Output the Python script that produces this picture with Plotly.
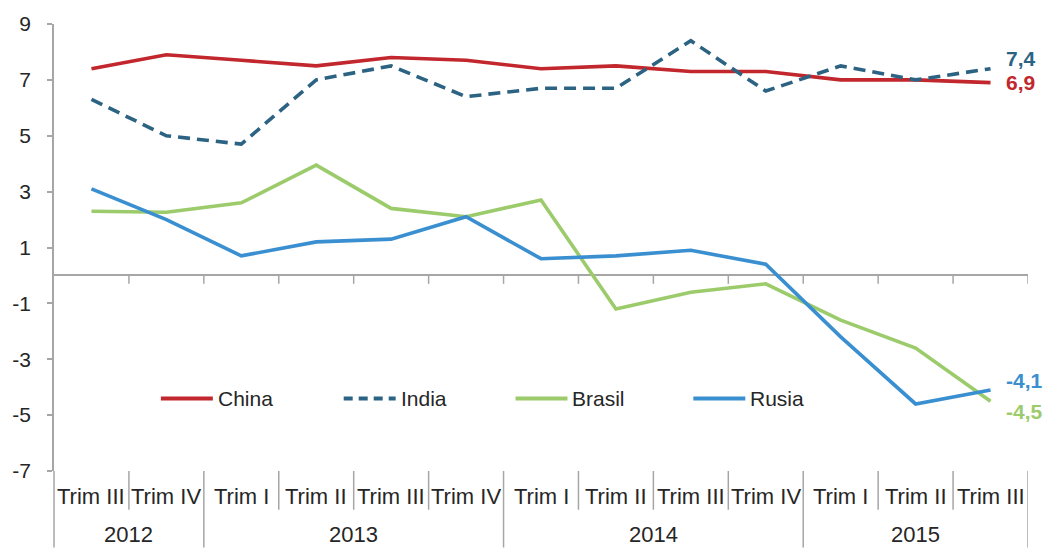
import plotly.graph_objects as go

# Quarterly GDP growth (% y/y), BRIC economies
years = ["2012", "2013", "2014", "2015"]
quarters_per_year = [2, 4, 4, 3]
trims = ["Trim III", "Trim IV",
         "Trim I", "Trim II", "Trim III", "Trim IV",
         "Trim I", "Trim II", "Trim III", "Trim IV",
         "Trim I", "Trim II", "Trim III"]

china = [7.4, 7.9, 7.7, 7.5, 7.8, 7.7, 7.4, 7.5, 7.3, 7.3, 7.0, 7.0, 6.9]
india = [6.3, 5.0, 4.7, 7.0, 7.5, 6.4, 6.7, 6.7, 8.4, 6.6, 7.5, 7.0, 7.4]
brasil = [2.3, 2.26, 2.6, 3.95, 2.4, 2.1, 2.7, -1.2, -0.6, -0.3, -1.6, -2.6, -4.5]
rusia = [3.1, 2.0, 0.7, 1.2, 1.3, 2.1, 0.6, 0.7, 0.9, 0.4, -2.2, -4.6, -4.1]

y_ticks = [-7, -5, -3, -1, 1, 3, 5, 7, 9]

series_names = ["China", "India", "Brasil", "Rusia"]
series_values = [china, india, brasil, rusia]
series_colors = ["#C1272D", "#2C6383", "#9CCB6C", "#3A8FD0"]
series_dash = ["solid", "12px,7px", "solid", "solid"]

# one category per quarter, labelled "year trim"
year_of_point = [y for y, n in zip(years, quarters_per_year) for _ in range(n)]
categories = [f"{y} {t}" for y, t in zip(year_of_point, trims)]

FONT = "Liberation Sans, Arial, sans-serif"
TXT = "#262626"
GRID = "#A6A6A6"

W, H = 1047, 548
ML, MR, MT, MB = 53, 19, 21, 77
PW, PH = W - ML - MR, H - MT - MB


def px_x(p):
    return (p - ML) / PW


def px_y(p):
    return (H - MB - p) / PH


fig = go.Figure()

for name, vals, col, dash in zip(series_names, series_values, series_colors, series_dash):
    fig.add_trace(go.Scatter(
        x=categories, y=vals, mode="lines", name=name,
        line=dict(color=col, width=3.6, dash=dash),
        showlegend=False, hoverinfo="skip",
    ))

shapes = []
annotations = []

# small ticks hanging from the zero line at quarter boundaries
n = len(categories)
for k in range(1, n + 1):
    shapes.append(dict(type="line", xref="x", yref="y",
                       x0=k - 0.5, x1=k - 0.5, y0=0, y1=-0.3,
                       line=dict(color=GRID, width=1.5)))

# separators in the category label area
year_edges = []
acc = 0
for cnt in quarters_per_year:
    acc += cnt
    year_edges.append(acc - 0.5)
for k in range(1, n):
    b = k - 0.5
    if b in year_edges:
        continue
    shapes.append(dict(type="line", xref="x", yref="paper",
                       x0=b, x1=b, y0=0, y1=-(39 / PH),
                       line=dict(color=GRID, width=1.5)))
for b in year_edges:
    shapes.append(dict(type="line", xref="x", yref="paper",
                       x0=b, x1=b, y0=0, y1=-(MB / PH),
                       line=dict(color=GRID, width=1.5)))
# value axis continues down through the label area
shapes.append(dict(type="line", xref="paper", yref="paper",
                   x0=0, x1=0, y0=0, y1=-(MB / PH),
                   line=dict(color=GRID, width=1.5)))

# quarter labels
for i, t in enumerate(trims):
    annotations.append(dict(x=i, y=px_y(497), xref="x", yref="paper",
                            text=t, showarrow=False,
                            font=dict(family=FONT, size=22, color=TXT),
                            xanchor="center", yanchor="middle"))
# year labels
start = 0
for y, cnt in zip(years, quarters_per_year):
    mid = start + (cnt - 1) / 2
    annotations.append(dict(x=mid, y=px_y(535), xref="x", yref="paper",
                            text=y, showarrow=False,
                            font=dict(family=FONT, size=22, color=TXT),
                            xanchor="center", yanchor="middle"))
    start += cnt

# end-of-series value labels
label_shift = {"China": 0, "India": 10, "Brasil": -10, "Rusia": 9}
for name, vals, col in zip(series_names, series_values, series_colors):
    v = vals[-1]
    annotations.append(dict(x=n - 1, y=v, xref="x", yref="y",
                            text=f"<b>{v:.1f}</b>".replace(".", ","),
                            showarrow=False, xanchor="left", yanchor="middle",
                            xshift=13, yshift=label_shift[name],
                            font=dict(family=FONT, size=21, color=col)))

# legend row drawn inside the plot area
legend_starts = [160, 343, 515, 693]
ly = px_y(398)
for name, col, dash, x0 in zip(series_names, series_colors, series_dash, legend_starts):
    ld = "9px,6px" if dash != "solid" else "solid"
    shapes.append(dict(type="line", xref="paper", yref="paper",
                       x0=px_x(x0), x1=px_x(x0 + 52), y0=ly, y1=ly,
                       line=dict(color=col, width=3.8, dash=ld)))
    annotations.append(dict(x=px_x(x0 + 55), y=ly, xref="paper", yref="paper",
                            text=name, showarrow=False,
                            xanchor="left", yanchor="middle",
                            font=dict(family=FONT, size=21, color=TXT)))

fig.update_layout(
    width=W, height=H,
    margin=dict(l=ML, r=MR, t=MT, b=MB, pad=0),
    paper_bgcolor="white", plot_bgcolor="white",
    font=dict(family=FONT, color=TXT),
    shapes=shapes, annotations=annotations,
    xaxis=dict(type="category", categoryorder="array", categoryarray=categories,
               range=[-0.5, n - 0.5], showticklabels=False, showgrid=False,
               showline=False, zeroline=False, ticks=""),
    yaxis=dict(range=[-7, 9], tickvals=y_ticks,
               ticktext=[str(t) for t in y_ticks],
               ticks="outside", ticklen=5, tickcolor=GRID, tickwidth=1.5,
               ticklabelstandoff=12,
               showline=True, linecolor=GRID, linewidth=1.5,
               showgrid=False, zeroline=True, zerolinecolor=GRID,
               zerolinewidth=1.5,
               tickfont=dict(family=FONT, size=21, color=TXT)),
)

fig.write_html("out.html")
